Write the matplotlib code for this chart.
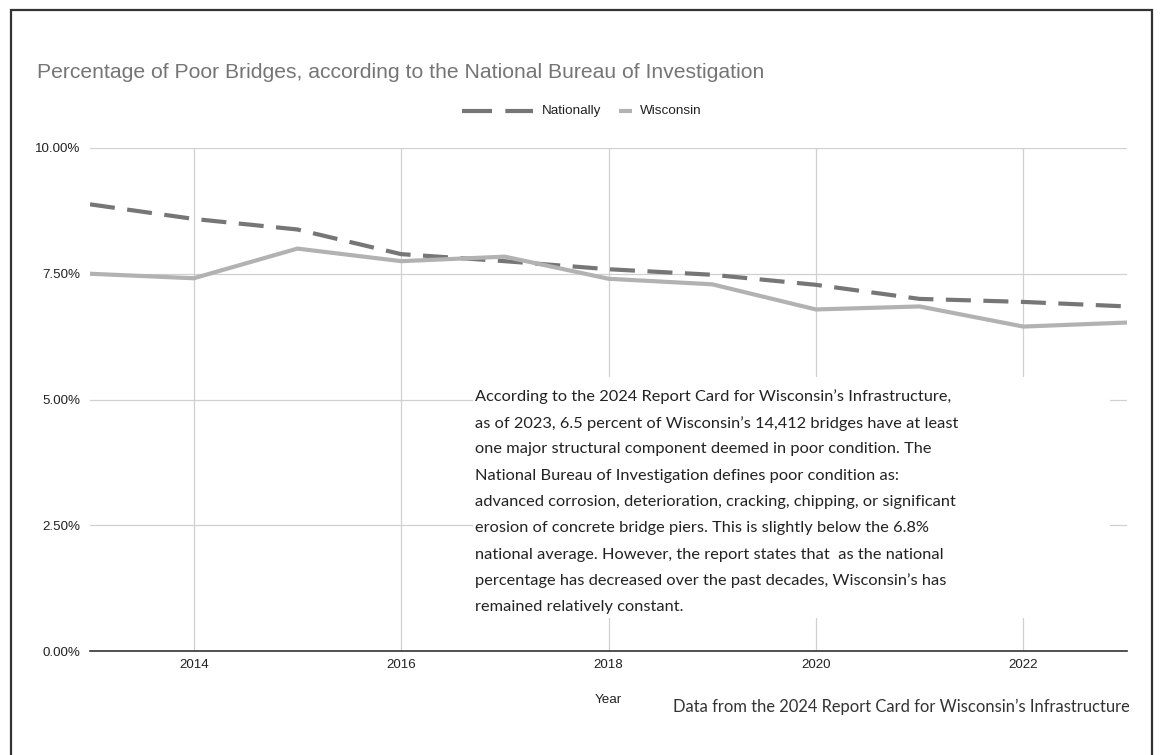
import matplotlib
matplotlib.use("Agg")
import matplotlib.pyplot as plt
from matplotlib.patches import Rectangle
from matplotlib.lines import Line2D
from matplotlib.ticker import FuncFormatter, MultipleLocator

# Share of bridges rated poor, in percent
years = [2013, 2014, 2015, 2016, 2017, 2018, 2019, 2020, 2021, 2022, 2023]
nationally = [8.88, 8.59, 8.38, 7.89, 7.75, 7.59, 7.48, 7.28, 7.00, 6.94, 6.85]
wisconsin = [7.50, 7.41, 8.00, 7.75, 7.84, 7.40, 7.29, 6.79, 6.85, 6.45, 6.53]
series_names = ["Nationally", "Wisconsin"]
x_ticks = [2014, 2016, 2018, 2020, 2022]

title = "Percentage of Poor Bridges, according to the National Bureau of Investigation"
note_lines = [
    "According to the 2024 Report Card for Wisconsin\u2019s Infrastructure,",
    "as of 2023, 6.5 percent of Wisconsin\u2019s 14,412 bridges have at least",
    "one major structural component deemed in poor condition. The",
    "National Bureau of Investigation defines poor condition as:",
    "advanced corrosion, deterioration, cracking, chipping, or significant",
    "erosion of concrete bridge piers. This is slightly below the 6.8%",
    "national average. However, the report states that  as the national",
    "percentage has decreased over the past decades, Wisconsin\u2019s has",
    "remained relatively constant.",
]
source = "Data from the 2024 Report Card for Wisconsin\u2019s Infrastructure"

NAT_COLOR = "#767676"
WI_COLOR = "#b2b2b2"

W, H = 1169, 755
fig = plt.figure(figsize=(W / 100, H / 100), dpi=100)
plt.rcParams['font.family'] = ['Liberation Sans', 'DejaVu Sans']
body_font = ['Lato', 'DejaVu Sans']

def px(x, y):
    return x / W, 1 - y / H

# outer frame
fig.patches.append(Rectangle(px(11, 760), (1152 - 11) / W, (760 - 10) / H,
                             transform=fig.transFigure, fill=False,
                             edgecolor="#333333", linewidth=1.6))

l, t = px(90, 148)
r, b = px(1127, 651)
ax = fig.add_axes([l, b, r - l, t - b])

ax.plot(years, nationally, color=NAT_COLOR, linewidth=3.0,
        dashes=(6, 3), dash_capstyle="butt", label=series_names[0], zorder=3)
ax.plot(years, wisconsin, color=WI_COLOR, linewidth=3.0,
        label=series_names[1], zorder=3)

ax.set_xlim(2013, 2023)
ax.set_ylim(0, 10)
ax.yaxis.set_major_locator(MultipleLocator(2.5))
ax.yaxis.set_major_formatter(FuncFormatter(lambda v, p: f"{v:.2f}%"))
ax.set_xticks(x_ticks)
ax.set_xticklabels([str(v) for v in x_ticks])
ax.grid(True, color="#d0d0d0", linewidth=0.9, zorder=0)
for s in ["top", "right", "left"]:
    ax.spines[s].set_visible(False)
ax.spines["bottom"].set_color("#333333")
ax.spines["bottom"].set_linewidth(1.2)
ax.tick_params(length=0, labelsize=9.6, colors="#222222")
ax.tick_params(axis="x", pad=6)
ax.tick_params(axis="y", pad=7)

fig.text(*px(37, 72), title, fontsize=15.2, color="#757575", va="center", ha="left")

# legend keys drawn in figure space
ly = 1 - 111 / H
fig.add_artist(Line2D([462 / W, 533 / W], [ly, ly], transform=fig.transFigure,
                      color=NAT_COLOR, linewidth=3.0, dashes=(7.2, 3.2),
                      dash_capstyle="butt"))
fig.text(542 / W, ly, series_names[0], fontsize=9.7, color="#222222", va="center", ha="left")
fig.add_artist(Line2D([619 / W, 632 / W], [ly, ly], transform=fig.transFigure,
                      color=WI_COLOR, linewidth=3.0, solid_capstyle="butt"))
fig.text(640 / W, ly, series_names[1], fontsize=9.7, color="#222222", va="center", ha="left")

# annotation panel over the plot
fig.patches.append(Rectangle(px(473, 618), (1110 - 473) / W, (618 - 377) / H,
                             transform=fig.transFigure, facecolor="white",
                             edgecolor="none", zorder=5))

# size the note so its longest line spans the panel width
renderer = fig.canvas.get_renderer()
probe = fig.text(0, 0, note_lines[4], fontsize=14, family=body_font)
w14 = probe.get_window_extent(renderer).width
probe.remove()
note_size = 14 * 483 / w14

line_step = 26.25
for i, line in enumerate(note_lines):
    fig.text(*px(475, 397 + i * line_step), line, fontsize=note_size, color="#222222",
             va="center", ha="left", family=body_font, zorder=6)

fig.text(*px(608, 700), "Year", fontsize=9.6, color="#222222", ha="center", va="center")

probe = fig.text(0, 0, source, fontsize=12, family=body_font)
ws = probe.get_window_extent(renderer).width
probe.remove()
fig.text(*px(1130, 707), source, fontsize=12 * 455 / ws, color="#333333",
         ha="right", va="center", family=body_font)

fig.savefig("out.png", dpi=100)
